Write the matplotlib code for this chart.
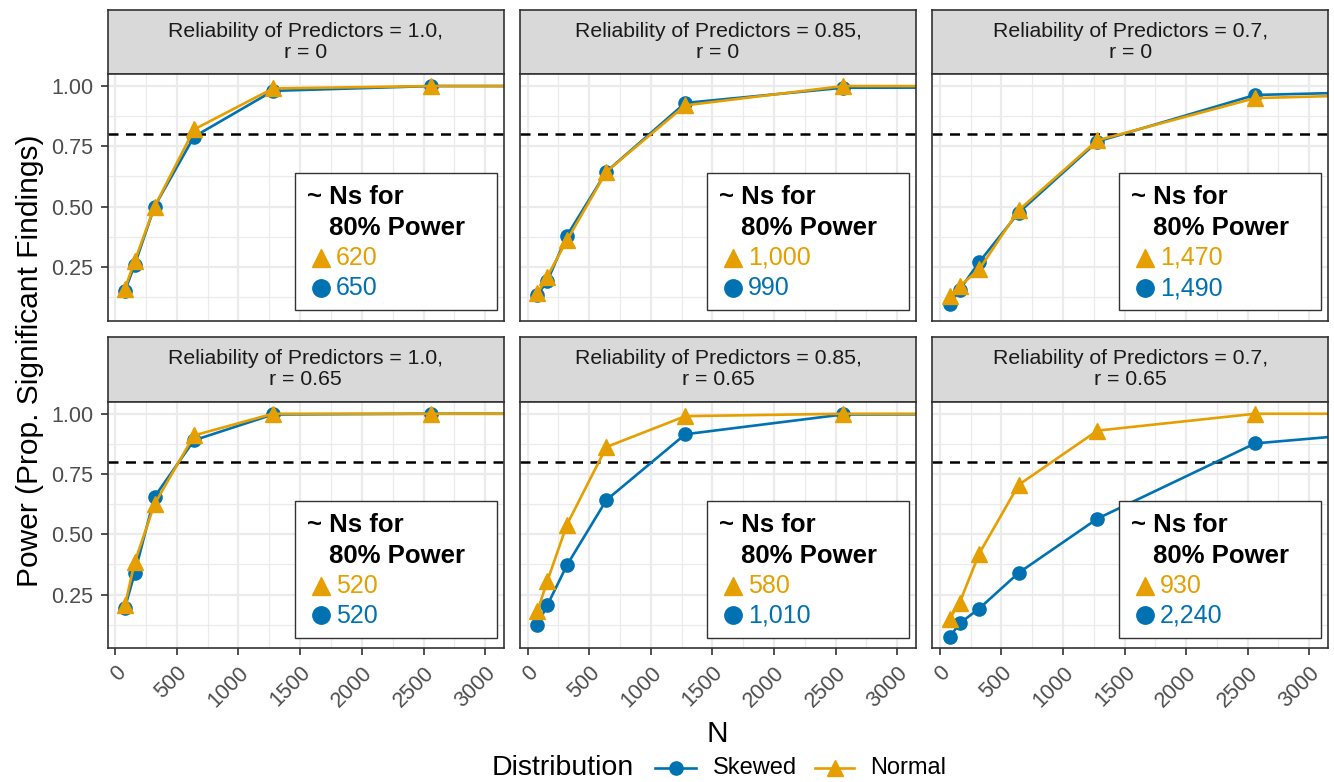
import matplotlib
matplotlib.use("Agg")
import matplotlib.pyplot as plt
from matplotlib.lines import Line2D
from matplotlib.patches import Rectangle

plt.rcParams['font.family'] = ['Liberation Sans', 'DejaVu Sans']

# ── data ────────────────────────────────────────────────────────────
sample_n = [80, 160, 320, 640, 1280, 2560, 5120]
reliability = ["1.0", "0.85", "0.7"]
r_values = ["0", "0.65"]

# one row per panel: (rel 1.0, r 0), (0.85, 0), (0.7, 0), (1.0, .65), (0.85, .65), (0.7, .65)
power_skewed = [
    [0.15, 0.26, 0.50, 0.79, 0.98, 1.00, 1.00],
    [0.135, 0.19, 0.38, 0.645, 0.93, 0.993, 0.995],
    [0.095, 0.155, 0.27, 0.475, 0.77, 0.963, 0.995],
    [0.195, 0.34, 0.655, 0.89, 0.997, 1.00, 1.00],
    [0.125, 0.205, 0.372, 0.642, 0.915, 0.997, 1.00],
    [0.073, 0.13, 0.192, 0.34, 0.565, 0.877, 0.99],
]
power_normal = [
    [0.16, 0.275, 0.50, 0.82, 0.99, 1.00, 1.00],
    [0.14, 0.21, 0.36, 0.645, 0.92, 1.00, 1.00],
    [0.13, 0.17, 0.24, 0.485, 0.775, 0.95, 0.985],
    [0.205, 0.385, 0.625, 0.91, 1.00, 1.00, 1.00],
    [0.18, 0.305, 0.54, 0.862, 0.99, 1.00, 1.00],
    [0.15, 0.215, 0.42, 0.705, 0.93, 1.00, 1.00],
]
n80_normal = [620, 1000, 1470, 520, 580, 930]
n80_skewed = [650, 990, 1490, 520, 1010, 2240]
power_target = 0.8

# ── style ───────────────────────────────────────────────────────────
C_SKEW = "#0072B2"
C_NORM = "#E69F00"
C_GRID = "#EBEBEB"
C_DARK = "#333333"
C_TICK = "#4D4D4D"

W, H = 1334, 782
fig = plt.figure(figsize=(W / 100, H / 100), dpi=100)
fig.patch.set_facecolor("white")


def rect(l, t, r, b):
    return [l / W, 1 - b / H, (r - l) / W, (b - t) / H]


col_x = [(107.5, 504), (520, 916), (932.3, 1328)]
row_y = [(74, 320.7), (401.7, 648.3)]
strip_y = [(9.5, 74), (336.7, 401.7)]

for i in range(6):
    row, col = divmod(i, 3)
    l, r = col_x[col]
    t, b = row_y[row]

    # strip
    sax = fig.add_axes(rect(l, strip_y[row][0], r, strip_y[row][1]))
    sax.set_facecolor("#D9D9D9")
    sax.set_xticks([])
    sax.set_yticks([])
    for sp in sax.spines.values():
        sp.set_color(C_DARK)
        sp.set_linewidth(1.2)
    sax.text(0.5, 0.5, f"Reliability of Predictors = {reliability[col]},\nr = {r_values[row]}",
             transform=sax.transAxes, ha="center", va="center", fontsize=15.3,
             color="#1A1A1A", linespacing=1.1)

    ax = fig.add_axes(rect(l, t, r, b))
    ax.set_xlim(-61, 3152)
    ax.set_ylim(0.027, 1.05)
    ax.set_xticks(range(0, 3001, 500))
    ax.set_xticks(range(250, 3001, 500), minor=True)
    ax.set_yticks([0.25, 0.5, 0.75, 1.0])
    ax.set_yticks([0.125, 0.375, 0.625, 0.875], minor=True)
    ax.grid(which="major", color=C_GRID, lw=1.6, zorder=0)
    ax.grid(which="minor", color=C_GRID, lw=0.9, zorder=0)
    ax.set_axisbelow(True)
    for sp in ax.spines.values():
        sp.set_color(C_DARK)
        sp.set_linewidth(1.2)
        sp.set_zorder(6)
    ax.tick_params(which="minor", length=0)
    ax.tick_params(which="major", color=C_DARK, width=1.2, length=5,
                   labelcolor=C_TICK, labelsize=15.5, pad=5)

    if col == 0:
        ax.set_yticklabels(["0.25", "0.50", "0.75", "1.00"])
    else:
        ax.tick_params(axis="y", which="major", length=0, labelleft=False)
    if row == 1:
        ax.set_xticklabels([str(v) for v in range(0, 3001, 500)], rotation=45,
                           ha="right", va="top", rotation_mode="anchor")
    else:
        ax.tick_params(axis="x", which="major", length=0, labelbottom=False)

    ax.axhline(power_target, color="black", lw=1.8, ls=(0, (4, 3)), zorder=2)
    ax.plot(sample_n, power_skewed[i], color=C_SKEW, lw=1.9, marker="o", ms=9.5, zorder=3)
    ax.plot(sample_n, power_normal[i], color=C_NORM, lw=1.9, marker="^", ms=11, zorder=4)

    # annotation box
    ax.add_patch(Rectangle((0.473, 0.043), 0.509, 0.555, transform=ax.transAxes,
                           facecolor="white", edgecolor=C_DARK, lw=1.0, zorder=7))
    ax.text(0.502, 0.473, "~ Ns for", transform=ax.transAxes, ha="left", va="baseline",
            fontsize=18.5, fontweight="bold", color="black", zorder=8)
    ax.text(0.559, 0.347, "80% Power", transform=ax.transAxes, ha="left", va="baseline",
            fontsize=18.5, fontweight="bold", color="black", zorder=8)
    ax.plot([0.538], [0.254], transform=ax.transAxes, marker="^", ms=13, color=C_NORM,
            clip_on=False, zorder=8)
    ax.plot([0.538], [0.134], transform=ax.transAxes, marker="o", ms=12.5, color=C_SKEW,
            clip_on=False, zorder=8)
    ax.text(0.576, 0.226, f"{n80_normal[i]:,}", transform=ax.transAxes, ha="left",
            va="baseline", fontsize=18, color=C_NORM, zorder=8)
    ax.text(0.576, 0.104, f"{n80_skewed[i]:,}", transform=ax.transAxes, ha="left",
            va="baseline", fontsize=18, color=C_SKEW, zorder=8)

# axis titles
fig.text(30 / W, 1 - 361 / H, "Power (Prop. Significant Findings)", rotation=90,
         ha="center", va="center", fontsize=21.5, color="black")
fig.text(717.75 / W, 1 - 734 / H, "N", ha="center", va="center", fontsize=21.5, color="black")

# legend (title on the left, ggplot style)
ly = 1 - 768 / H
fig.text(492 / W, ly, "Distribution", ha="left", va="center", fontsize=20.5, color="black")
fig.add_artist(Line2D([655 / W, 696 / W], [ly, ly], color=C_SKEW, lw=1.9,
                      transform=fig.transFigure))
fig.add_artist(Line2D([675.5 / W], [ly], color=C_SKEW, marker="o", ms=9.5,
                      transform=fig.transFigure))
fig.text(713 / W, ly, "Skewed", ha="left", va="center", fontsize=17, color="black")
fig.add_artist(Line2D([815 / W, 854 / W], [ly, ly], color=C_NORM, lw=1.9,
                      transform=fig.transFigure))
fig.add_artist(Line2D([834.5 / W], [ly], color=C_NORM, marker="^", ms=11,
                      transform=fig.transFigure))
fig.text(870 / W, ly, "Normal", ha="left", va="center", fontsize=17, color="black")

fig.savefig("out.png", dpi=100, facecolor="white")
